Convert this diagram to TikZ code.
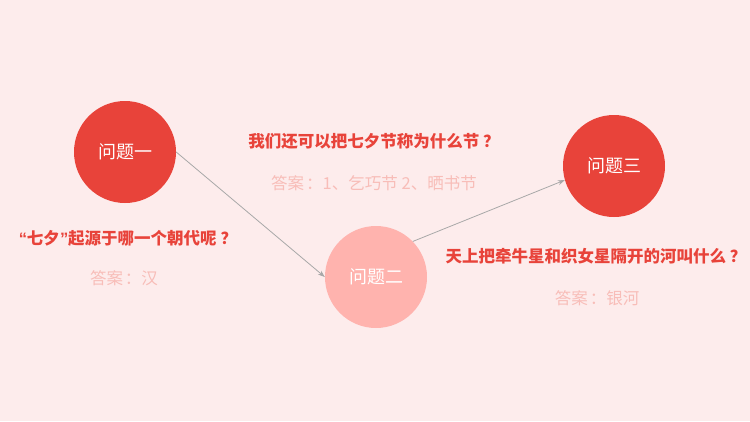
\documentclass[tikz,border=0pt]{standalone}
\usepackage{fontspec}
\setmainfont{Noto Sans CJK SC}
\newfontfamily\latinq{Liberation Sans}
\usetikzlibrary{arrows.meta}
\definecolor{bgpink}{HTML}{FDECEC}
\definecolor{darkred}{HTML}{E8433A}
\definecolor{lightred}{HTML}{FFB3AE}
\definecolor{anspink}{HTML}{F8BDB8}
\definecolor{arrowgray}{HTML}{A8A8A8}
\newcommand{\qmark}{\hspace{4pt}？}
\newcommand{\ccolon}{\hspace{2pt}：}
\tikzset{
  qcircle/.style={circle, minimum size=102pt, inner sep=0pt, text=white, font=\fontsize{18}{21}\selectfont},
  question/.style={text=darkred, font=\bfseries\fontsize{16.5}{19}\selectfont, inner sep=0pt},
  answer/.style={text=anspink, font=\fontsize{16.5}{19}\selectfont, inner sep=0pt},
  link/.style={draw=arrowgray, line width=0.8pt, -{Stealth[length=7pt,width=5pt]}}
}
\begin{document}
\begin{tikzpicture}[x=1pt,y=-1pt]
\fill[bgpink] (0,0) rectangle (750,421);
\useasboundingbox (0,0) rectangle (750,421);
\node[qcircle, fill=darkred] (q1) at (125,152) {问题一};
\node[qcircle, fill=lightred] (q2) at (376,277) {问题二};
\node[qcircle, fill=darkred] (q3) at (614,166) {问题三};
\draw[link] (q1.east) -- (q2.west);
\draw[link] (q2.44) -- (q3.196);
\node[question] (t1) at (128,238) {{\latinq\bfseries “}七夕{\latinq\bfseries ”}起源于哪一个朝代呢\qmark};
\node[answer] (a1) at (124,278) {答案\ccolon 汉};
\node[question] (t2) at (374,141) {我们还可以把七夕节称为什么节\qmark};
\node[answer] (a2) at (374,183) {答案\ccolon 1、乞巧节 2、晒书节};
\node[question] (t3) at (596,256) {天上把牵牛星和织女星隔开的河叫什么\qmark};
\node[answer] (a3) at (597,298) {答案\ccolon 银河};
\end{tikzpicture}
\end{document}
